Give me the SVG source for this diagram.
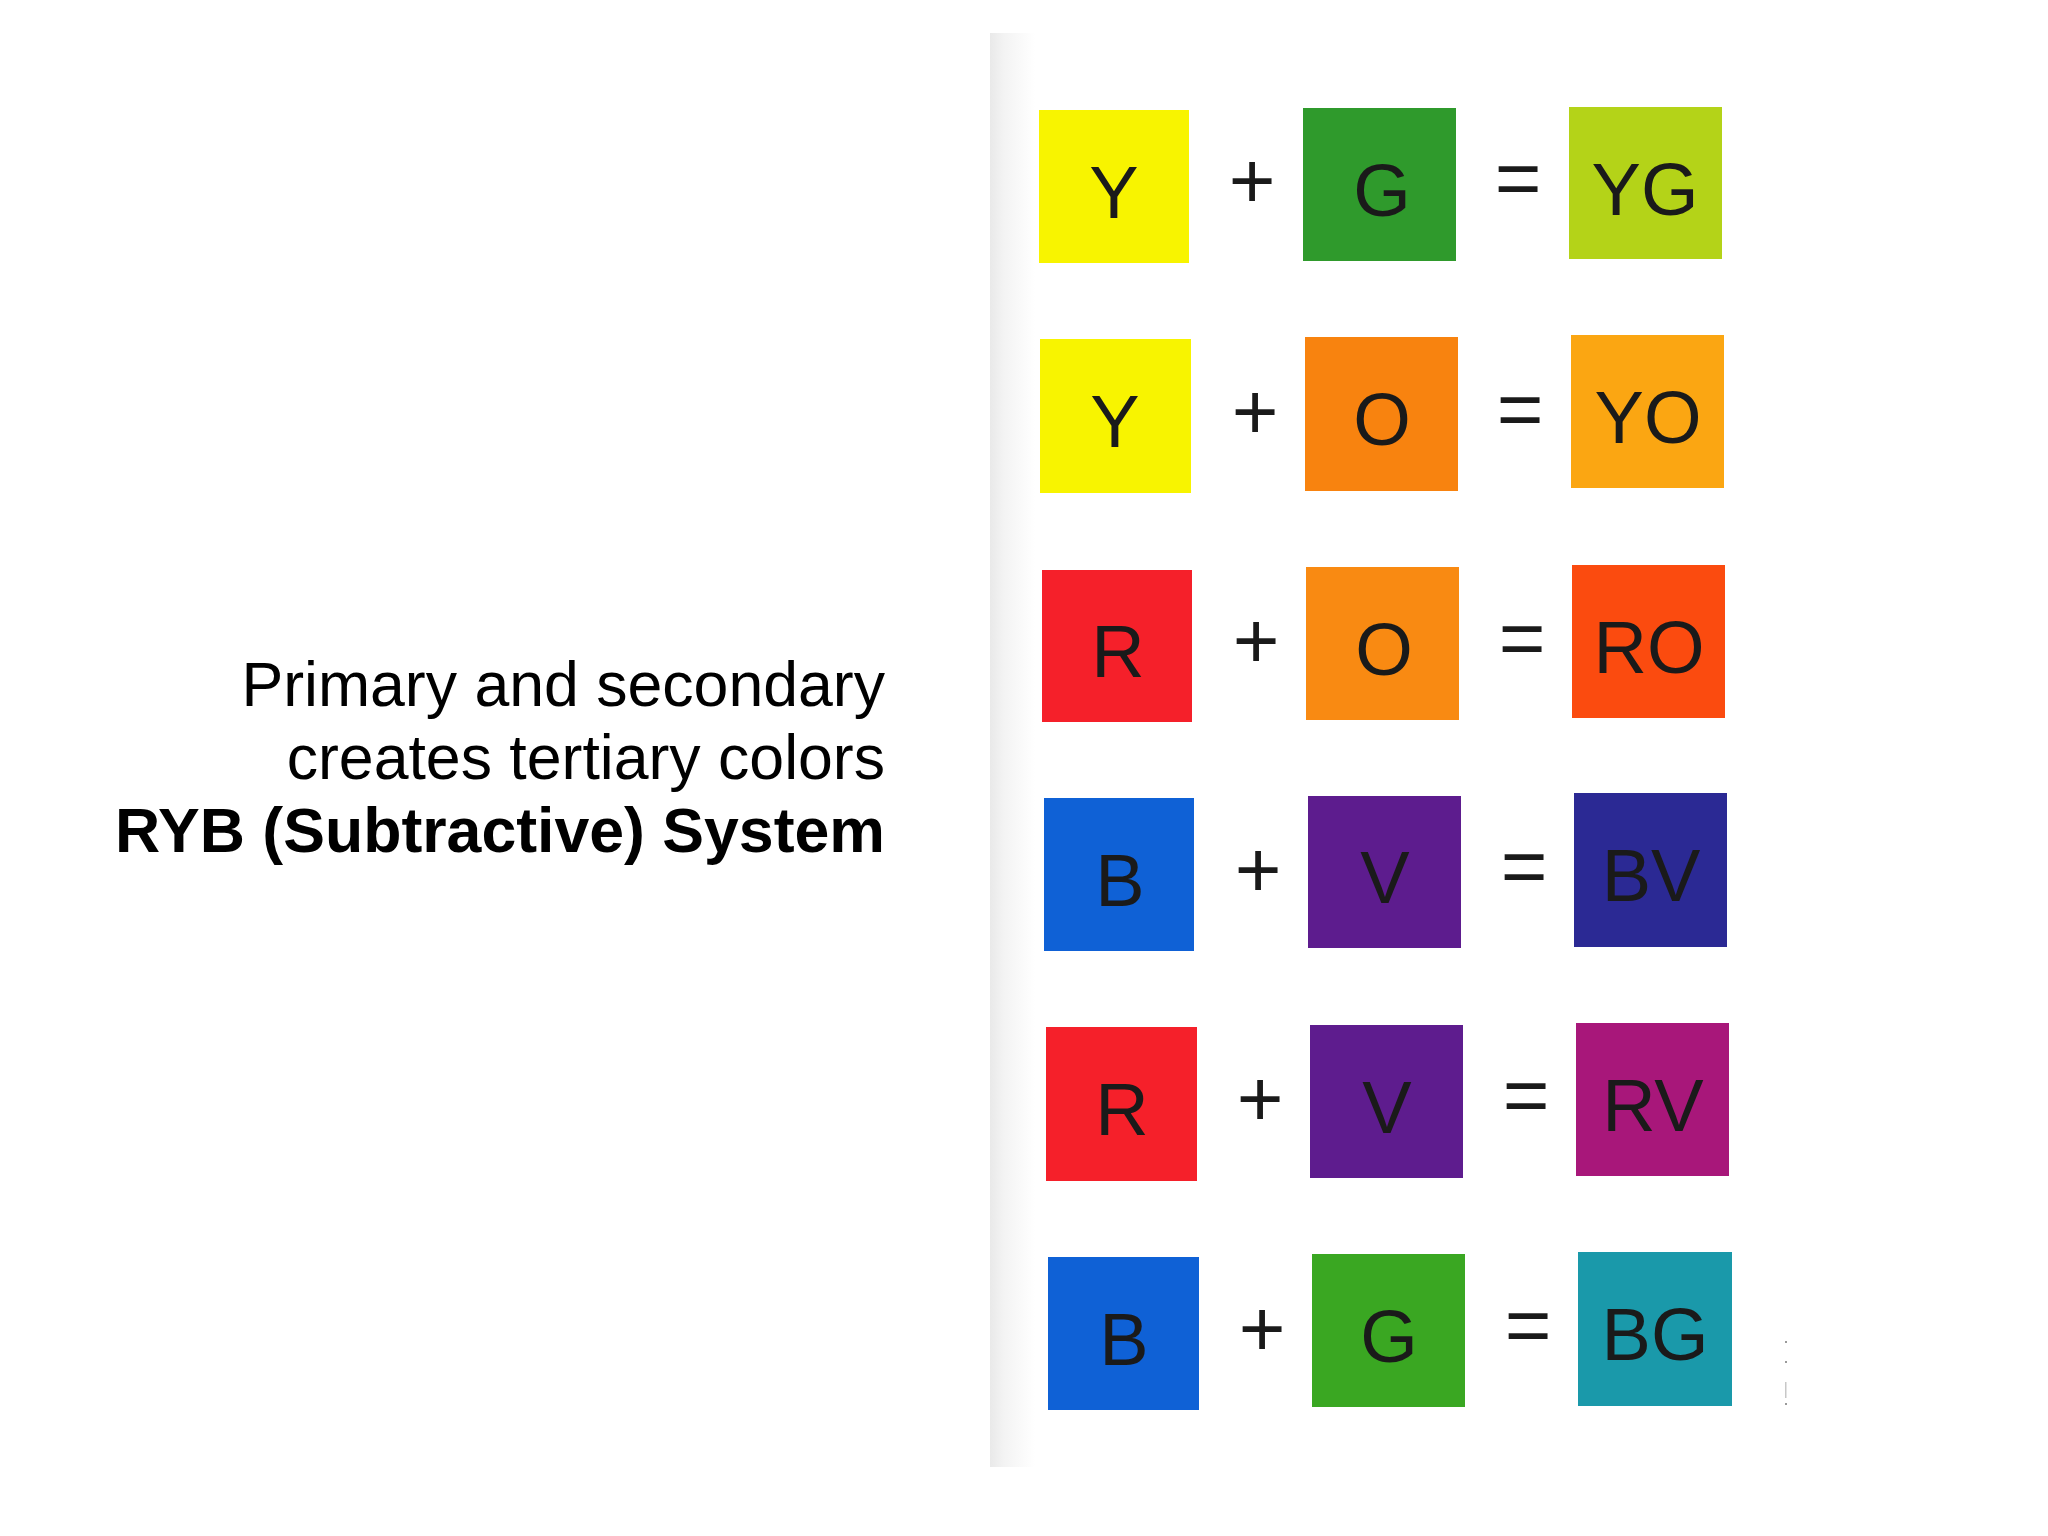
<svg xmlns="http://www.w3.org/2000/svg" width="2048" height="1536" viewBox="0 0 2048 1536">
<defs>
<linearGradient id="band" x1="0" y1="0" x2="1" y2="0">
<stop offset="0" stop-color="#e9e9e9"/>
<stop offset="0.3" stop-color="#f3f3f3"/>
<stop offset="1" stop-color="#ffffff"/>
</linearGradient>
<style>
.sw{stroke:none}
.lt{font-family:"Liberation Sans",Arial,Helvetica,sans-serif;font-size:74px;fill:#1a1a1a;text-anchor:middle}
.op{font-family:"Liberation Sans",Arial,Helvetica,sans-serif;font-size:80px;fill:#1a1a1a;text-anchor:middle}
.cap{font-family:"Liberation Sans",Arial,Helvetica,sans-serif;font-size:62.6px;fill:#000;text-anchor:end}
.bold{font-weight:bold}
</style>
</defs>
<rect width="2048" height="1536" fill="#ffffff"/>
<rect x="990" y="33" width="45" height="1434" fill="url(#band)"/>
<g id="caption">
<text class="cap" x="885" y="706">Primary and secondary</text>
<text class="cap" x="885" y="779">creates tertiary colors</text>
<text class="cap bold" x="885" y="852">RYB (Subtractive) System</text>
</g>
<g id="row1">
<g id="r1-Y"><rect class="sw" x="1039" y="110" width="150" height="153" fill="#f8f400"/><text class="lt" x="1114" y="218">Y</text></g>
<text class="op" x="1252" y="208">+</text>
<g id="r1-G"><rect class="sw" x="1303" y="108" width="153" height="153" fill="#2f9a2c"/><text class="lt" x="1382" y="216">G</text></g>
<text class="op" x="1518" y="205">=</text>
<g id="r1-YG"><rect class="sw" x="1569" y="107" width="153" height="152" fill="#b4d318"/><text class="lt" x="1645" y="215">YG</text></g>
</g>
<g id="row2">
<g id="r2-Y"><rect class="sw" x="1040" y="339" width="151" height="154" fill="#f8f400"/><text class="lt" x="1115" y="447">Y</text></g>
<text class="op" x="1255" y="439">+</text>
<g id="r2-O"><rect class="sw" x="1305" y="337" width="153" height="154" fill="#f8830f"/><text class="lt" x="1382" y="445">O</text></g>
<text class="op" x="1520" y="436">=</text>
<g id="r2-YO"><rect class="sw" x="1571" y="335" width="153" height="153" fill="#fba612"/><text class="lt" x="1648" y="443">YO</text></g>
</g>
<g id="row3">
<g id="r3-R"><rect class="sw" x="1042" y="570" width="150" height="152" fill="#f5202a"/><text class="lt" x="1118" y="677">R</text></g>
<text class="op" x="1256" y="668">+</text>
<g id="r3-O"><rect class="sw" x="1306" y="567" width="153" height="153" fill="#f98a12"/><text class="lt" x="1384" y="675">O</text></g>
<text class="op" x="1522" y="665">=</text>
<g id="r3-RO"><rect class="sw" x="1572" y="565" width="153" height="153" fill="#fb4b0f"/><text class="lt" x="1649" y="673">RO</text></g>
</g>
<g id="row4">
<g id="r4-B"><rect class="sw" x="1044" y="798" width="150" height="153" fill="#0f61d6"/><text class="lt" x="1120" y="906">B</text></g>
<text class="op" x="1258" y="897">+</text>
<g id="r4-V"><rect class="sw" x="1308" y="796" width="153" height="152" fill="#5d1c8e"/><text class="lt" x="1385" y="903">V</text></g>
<text class="op" x="1524" y="893">=</text>
<g id="r4-BV"><rect class="sw" x="1574" y="793" width="153" height="154" fill="#2b2994"/><text class="lt" x="1651" y="901">BV</text></g>
</g>
<g id="row5">
<g id="r5-R"><rect class="sw" x="1046" y="1027" width="151" height="154" fill="#f5202a"/><text class="lt" x="1122" y="1135">R</text></g>
<text class="op" x="1260" y="1126">+</text>
<g id="r5-V"><rect class="sw" x="1310" y="1025" width="153" height="153" fill="#5e1c8e"/><text class="lt" x="1387" y="1133">V</text></g>
<text class="op" x="1526" y="1122">=</text>
<g id="r5-RV"><rect class="sw" x="1576" y="1023" width="153" height="153" fill="#a8177a"/><text class="lt" x="1653" y="1131">RV</text></g>
</g>
<g id="row6">
<g id="r6-B"><rect class="sw" x="1048" y="1257" width="151" height="153" fill="#0f61d6"/><text class="lt" x="1124" y="1365">B</text></g>
<text class="op" x="1262" y="1356">+</text>
<g id="r6-G"><rect class="sw" x="1312" y="1254" width="153" height="153" fill="#3aa722"/><text class="lt" x="1389" y="1362">G</text></g>
<text class="op" x="1528" y="1352">=</text>
<g id="r6-BG"><rect class="sw" x="1578" y="1252" width="154" height="154" fill="#1a99aa"/><text class="lt" x="1655" y="1360">BG</text></g>
</g>
<g id="marks" fill="#9a9a9a">
<rect x="1785" y="1341" width="2" height="2"/>
<rect x="1785" y="1361" width="2" height="2"/>
<rect x="1785" y="1382" width="1.5" height="16" fill="#c8c8c8"/>
<rect x="1785" y="1403" width="2" height="2"/>
</g>
</svg>
